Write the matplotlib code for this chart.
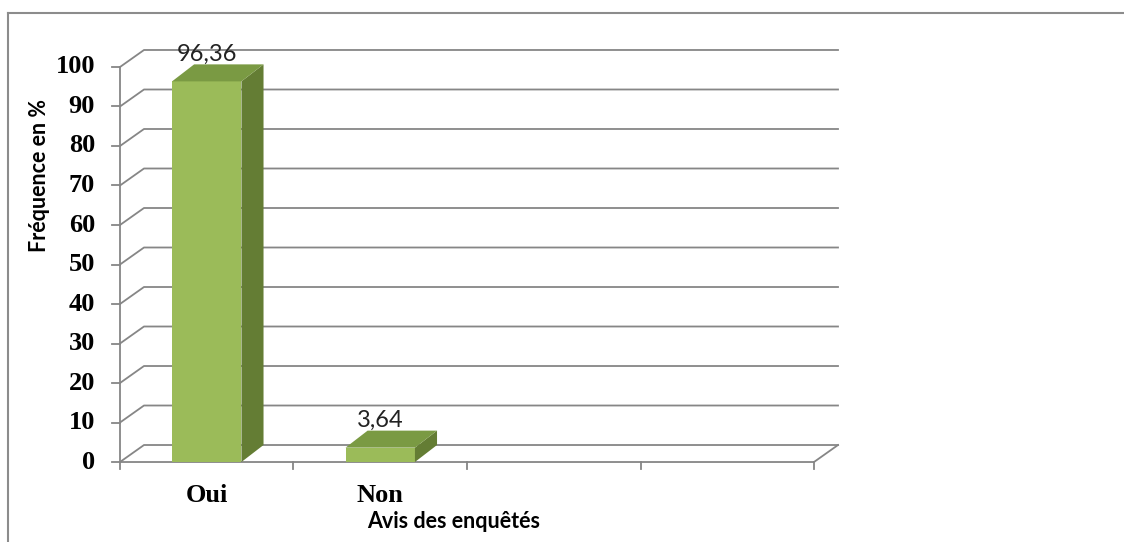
import matplotlib.pyplot as plt
from matplotlib.patches import Polygon
from matplotlib.lines import Line2D

categories = ['Oui', 'Non', '', '']
valeurs = [96.36, 3.64]
etiquettes = ['96,36', '3,64']
graduations = list(range(0, 101, 10))

vert_face = '#9bbb59'
vert_dessus = '#7a9a43'
vert_cote = '#647d34'
gris = '#868686'

fig = plt.figure(figsize=(11.24, 5.42), dpi=100)
ax = fig.add_axes([0, 0, 1, 1])
ax.set_xlim(-1.1916, 5.2867)
ax.set_ylim(-20.25, 116.96)
ax.axis('off')

# decalage de perspective (en unites categorie / valeur)
dx = 24 / 173.5
dy = 17 / 3.95
x0 = -0.5
x1 = len(categories) - 0.5

# murs : lignes de quadrillage sur le cote gauche et le fond
for v in graduations:
    ax.plot([x0, x0 + dx, x1 + dx], [v, v + dy, v + dy], color=gris, lw=1.3, zorder=1)
    ax.plot([x0 - 0.045, x0], [v, v], color=gris, lw=1.3, zorder=1)
ax.plot([x0, x1, x1 + dx], [0, 0, dy], color=gris, lw=1.3, zorder=1)
ax.plot([x0, x0], [0, 100], color=gris, lw=1.3, zorder=1)
for k in range(len(categories) + 1):
    ax.plot([x0 + k, x0 + k], [0, -1.8], color=gris, lw=1.3, zorder=1)

# barres 3D
larg = 0.2
bx = dx * 0.92
by = dy
for i, v in enumerate(valeurs):
    g, d = i - larg, i + larg
    ax.add_patch(Polygon([(g, 0), (d, 0), (d, v), (g, v)], closed=True,
                         facecolor=vert_face, edgecolor='none', zorder=3))
    ax.add_patch(Polygon([(d, 0), (d + bx, by), (d + bx, v + by), (d, v)], closed=True,
                         facecolor=vert_cote, edgecolor='none', zorder=3))
    ax.add_patch(Polygon([(g, v), (g + bx, v + by), (d + bx, v + by), (d, v)], closed=True,
                         facecolor=vert_dessus, edgecolor='none', zorder=3))
    ax.annotate(etiquettes[i], (i, v + by), xytext=(0, 0), textcoords='offset points',
                ha='center', va='bottom', fontsize=17, family='Lato', color='#222222', zorder=4)

# graduations
for v in graduations:
    ax.annotate(str(v), (x0, v), xytext=(-18, 0), textcoords='offset points',
                ha='right', va='center', fontsize=19, family='Liberation Serif',
                fontweight='bold', color='black')
for i, c in enumerate(categories):
    if c:
        ax.annotate(c, (i, 0), xytext=(0, -24), textcoords='offset points',
                    ha='center', va='center', fontsize=19, family='Liberation Serif',
                    fontweight='bold', color='black')

# titres des axes
fig.text(454 / 1124, 1 - 522 / 542, 'Avis des enquêtés', ha='center', va='center',
         fontsize=15.5, family='Lato', fontweight='bold')
fig.text(40 / 1124, 1 - 176 / 542, 'Fréquence en %', ha='center', va='center',
         rotation=90, fontsize=15.5, family='Lato', fontweight='bold')

# cadre du graphique
fig.add_artist(Line2D([7.5 / 1124, 7.5 / 1124], [0, 1 - 13 / 542], color='#8c8c8c', lw=1.5))
fig.add_artist(Line2D([7.5 / 1124, 1], [1 - 13 / 542, 1 - 13 / 542], color='#8c8c8c', lw=1.5))

fig.savefig('out.png', dpi=100)
